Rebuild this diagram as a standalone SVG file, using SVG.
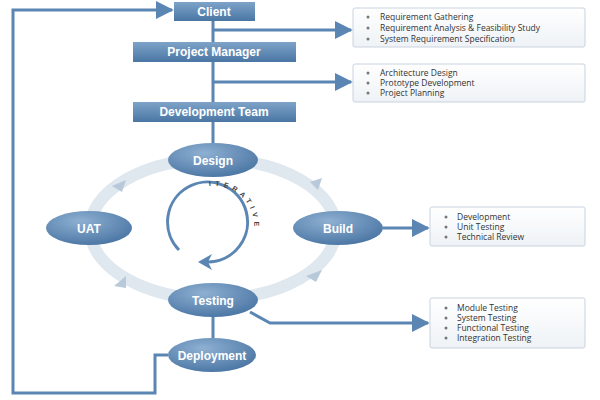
<svg xmlns="http://www.w3.org/2000/svg" xmlns:xlink="http://www.w3.org/1999/xlink" width="600" height="400" viewBox="0 0 600 400">
<defs>
<linearGradient id="bx" x1="0" y1="0" x2="0" y2="1"><stop offset="0" stop-color="#7ea3c8"/><stop offset="1" stop-color="#4a76a4"/></linearGradient>
<radialGradient id="el" cx="0.4" cy="0.3" r="0.8"><stop offset="0" stop-color="#8eb0d2"/><stop offset="1" stop-color="#44709f"/></radialGradient>
<linearGradient id="ib" x1="0" y1="0" x2="0" y2="1"><stop offset="0" stop-color="#ffffff"/><stop offset="1" stop-color="#eef2f6"/></linearGradient>
<marker id="ar" viewBox="0 0 10 10" refX="9" refY="5" markerWidth="6" markerHeight="6" orient="auto"><path d="M0,0L10,5L0,10z" fill="#5b86b3"/></marker>
<path id="itp" d="M176,238 A40,40 0 1 1 238,258"/>
</defs>
<style>
.n{fill:url(#bx)}
.e{fill:url(#el)}
.t{font-family:"Liberation Sans",Arial,sans-serif;font-weight:bold;font-size:12px;fill:#fff;text-anchor:middle}
.c{fill:none;stroke:#5b86b3;stroke-width:3}
.i{fill:url(#ib);stroke:#c8d3de;stroke-width:1}
.l{font-family:"Open Sans","DejaVu Sans",sans-serif;font-size:8.5px;fill:#333}
.d{fill:#777}
.h{fill:#b8c9da}
</style>
<ellipse cx="213" cy="229" rx="123" ry="70" fill="none" stroke="#dfe7ef" stroke-width="12"/>
<g class="h">
<path d="M310,182 L322,178 L318,190 z"/>
<path d="M306,276 L322,270 L316,282 z"/>
<path d="M114,286 L126,276 L126,288 z"/>
<path d="M112,186 L126,180 L122,192 z"/>
</g>
<g id="connectors">
<path class="c" d="M213,21 V42 M213,62 V102 M213,122 V143 M213,317 V338"/>
<path class="c" d="M213,30 H351" marker-end="url(#ar)"/>
<path class="c" d="M213,82 H351" marker-end="url(#ar)"/>
<path class="c" d="M383,228 H428" marker-end="url(#ar)"/>
<path class="c" d="M250,312 L270,323 H428" marker-end="url(#ar)"/>
<path class="c" d="M168,355 H155 V393 H13 V10 H172" marker-end="url(#ar)"/>
<path d="M179,250 A40,40 0 1 1 208,262" fill="none" stroke="#5b86b3" stroke-width="3"/>
<path d="M198,262 L212,254 L208,262 L212,270 z" fill="#5b86b3"/>
</g>
<text font-family="Liberation Sans,sans-serif" font-size="7" font-weight="bold" fill="#444" letter-spacing="4"><textPath xlink:href="#itp" startOffset="40%">ITERATIVE</textPath></text>
<g id="client"><rect class="n" x="174" y="2" width="81" height="19"/><text class="t" x="214" y="16">Client</text></g>
<g id="pm"><rect class="n" x="133" y="42" width="163" height="20"/><text class="t" x="214" y="56">Project Manager</text></g>
<g id="dev"><rect class="n" x="133" y="102" width="163" height="20"/><text class="t" x="214" y="116">Development Team</text></g>
<g id="design"><ellipse class="e" cx="213" cy="160" rx="45" ry="17"/><text class="t" x="213" y="165">Design</text></g>
<g id="build"><ellipse class="e" cx="338" cy="228" rx="45" ry="17"/><text class="t" x="338" y="233">Build</text></g>
<g id="uat"><ellipse class="e" cx="89" cy="228" rx="43" ry="17"/><text class="t" x="89" y="233">UAT</text></g>
<g id="testing"><ellipse class="e" cx="213" cy="300" rx="45" ry="17"/><text class="t" x="213" y="305">Testing</text></g>
<g id="deploy"><ellipse class="e" cx="212" cy="355" rx="44" ry="17"/><text class="t" x="212" y="360">Deployment</text></g>
<g id="info1"><rect class="i" x="353" y="8" width="232" height="39" rx="2"/>
<circle class="d" cx="368" cy="17" r="1.5"/><circle class="d" cx="368" cy="28" r="1.5"/><circle class="d" cx="368" cy="39" r="1.5"/>
<text class="l" x="380" y="20">Requirement Gathering</text><text class="l" x="380" y="31">Requirement Analysis &amp; Feasibility Study</text><text class="l" x="380" y="42">System Requirement Specification</text></g>
<g id="info2"><rect class="i" x="353" y="64" width="232" height="38" rx="2"/>
<circle class="d" cx="368" cy="73" r="1.5"/><circle class="d" cx="368" cy="83" r="1.5"/><circle class="d" cx="368" cy="93" r="1.5"/>
<text class="l" x="380" y="76">Architecture Design</text><text class="l" x="380" y="86">Prototype Development</text><text class="l" x="380" y="96">Project Planning</text></g>
<g id="info3"><rect class="i" x="430" y="207" width="155" height="39" rx="2"/>
<circle class="d" cx="446" cy="217" r="1.5"/><circle class="d" cx="446" cy="227" r="1.5"/><circle class="d" cx="446" cy="237" r="1.5"/>
<text class="l" x="457" y="220">Development</text><text class="l" x="457" y="230">Unit Testing</text><text class="l" x="457" y="240">Technical Review</text></g>
<g id="info4"><rect class="i" x="430" y="298" width="155" height="50" rx="2"/>
<circle class="d" cx="446" cy="308" r="1.5"/><circle class="d" cx="446" cy="318" r="1.5"/><circle class="d" cx="446" cy="328" r="1.5"/><circle class="d" cx="446" cy="338" r="1.5"/>
<text class="l" x="457" y="311">Module Testing</text><text class="l" x="457" y="321">System Testing</text><text class="l" x="457" y="331">Functional Testing</text><text class="l" x="457" y="341">Integration Testing</text></g>
</svg>
